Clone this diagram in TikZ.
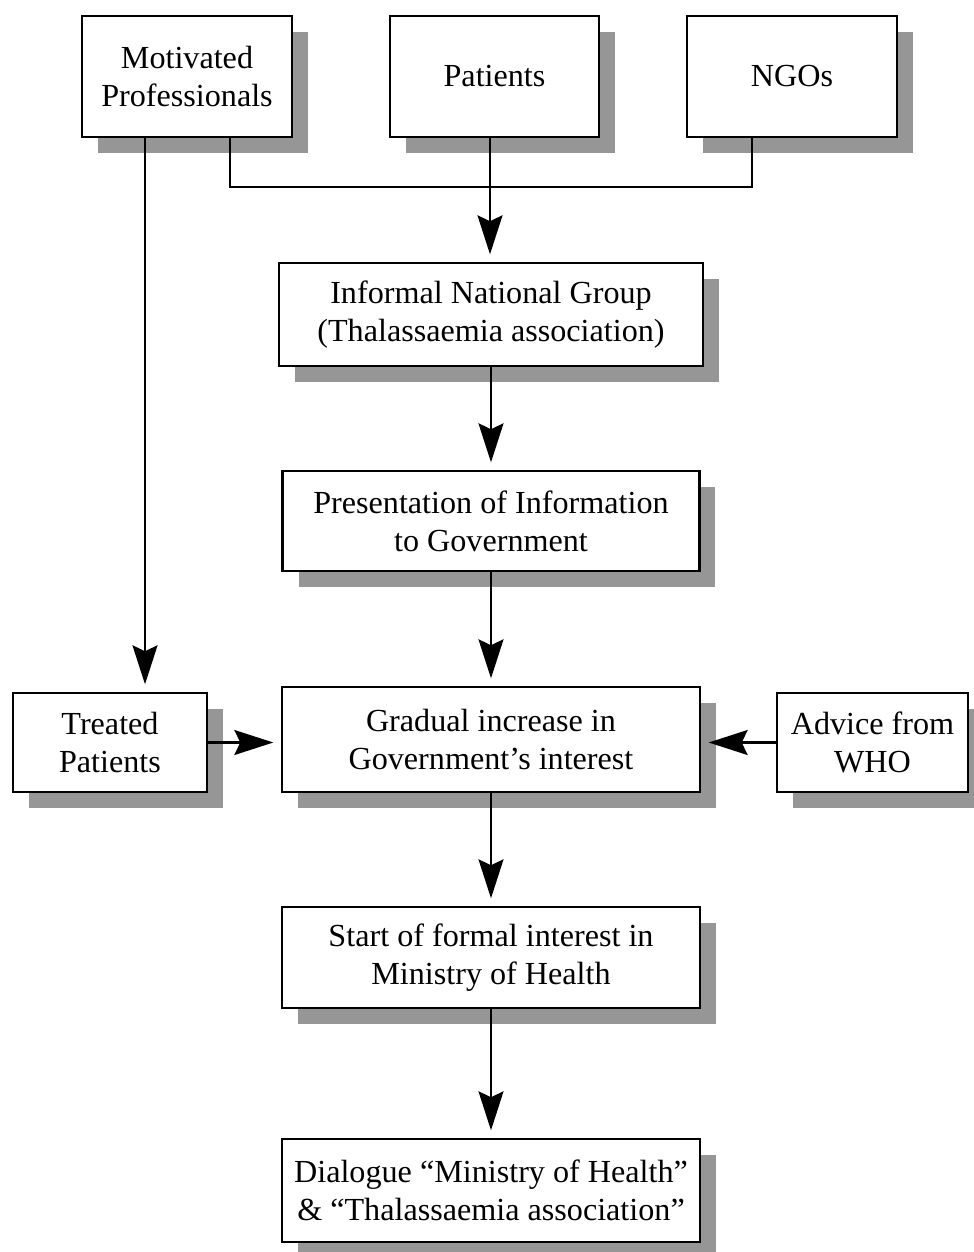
\documentclass[tikz,border=0pt]{standalone}
\usepackage{fontspec}
\setmainfont{Liberation Serif}
\definecolor{shadowgray}{HTML}{969696}
\usetikzlibrary{arrows.meta,shadows}

\begin{document}
\begin{tikzpicture}[
    x=0.02cm, y=-0.02cm,
    box/.style={draw, line width=1.4pt, fill=white, align=center, inner sep=0pt,
                font=\fontsize{18.3}{21.5}\selectfont,
                drop shadow={shadow xshift=0.32cm, shadow yshift=-0.32cm,
                             fill=shadowgray, opacity=1}},
    ln/.style={line width=1.3pt},
    arr/.style={ln, -{Stealth[length=0.78cm, width=0.5cm, inset=0.12cm]},
                shorten >=0.15cm}
  ]
  \useasboundingbox (0,0) rectangle (974,1252);
  \clip (0,0) rectangle (974,1252);

  % top row
  \node[box, minimum width=4.2cm, minimum height=2.42cm] (mot) at (187,76.5) {Motivated\\Professionals};
  \node[box, minimum width=4.18cm, minimum height=2.42cm] (pat) at (494.5,76.5) {Patients};
  \node[box, minimum width=4.2cm, minimum height=2.42cm] (ngo) at (792,76.5) {NGOs};

  % central column
  \node[box, minimum width=8.48cm, minimum height=2.06cm] (inf) at (491,314.5) {Informal National Group\\(Thalassaemia association)};
  \node[box, minimum width=8.34cm, minimum height=2.0cm] (pre) at (491,521) {Presentation of Information\\to Government};
  \node[box, minimum width=8.36cm, minimum height=2.1cm] (gra) at (491,739.5) {Gradual increase in\\Government's interest};
  \node[box, minimum width=8.36cm, minimum height=2.02cm] (sta) at (491,957.5) {Start of formal interest in\\Ministry of Health};
  \node[box, minimum width=8.36cm, minimum height=2.06cm] (dia) at (491,1190.5) {Dialogue ``Ministry of Health''\\\& ``Thalassaemia association''};

  % side boxes
  \node[box, minimum width=3.88cm, minimum height=1.98cm] (trt) at (110,742.5) {Treated\\Patients};
  \node[box, minimum width=3.82cm, minimum height=1.98cm] (adv) at (872.5,742.5) {Advice from\\WHO};

  % connectors
  \coordinate (join) at (490,187);
  \draw[ln] ([xshift=0.86cm]mot.south) |- (join) -| ([xshift=-0.8cm]ngo.south);
  \draw[arr] ([xshift=-0.09cm]pat.south) -- ([xshift=-0.09cm]pat.south |- inf.north);
  \draw[arr] ([xshift=-0.84cm]mot.south) -- ([xshift=-0.84cm]mot.south |- trt.north);
  \draw[arr] (inf.south) -- (pre.north);
  \draw[arr] (pre.south) -- (gra.north);
  \draw[arr] (gra.south) -- (sta.north);
  \draw[arr] (sta.south) -- (dia.north);
  \draw[arr] (trt.east) -- (trt.east -| gra.west);
  \draw[arr] (adv.west) -- (adv.west -| gra.east);
\end{tikzpicture}
\end{document}
